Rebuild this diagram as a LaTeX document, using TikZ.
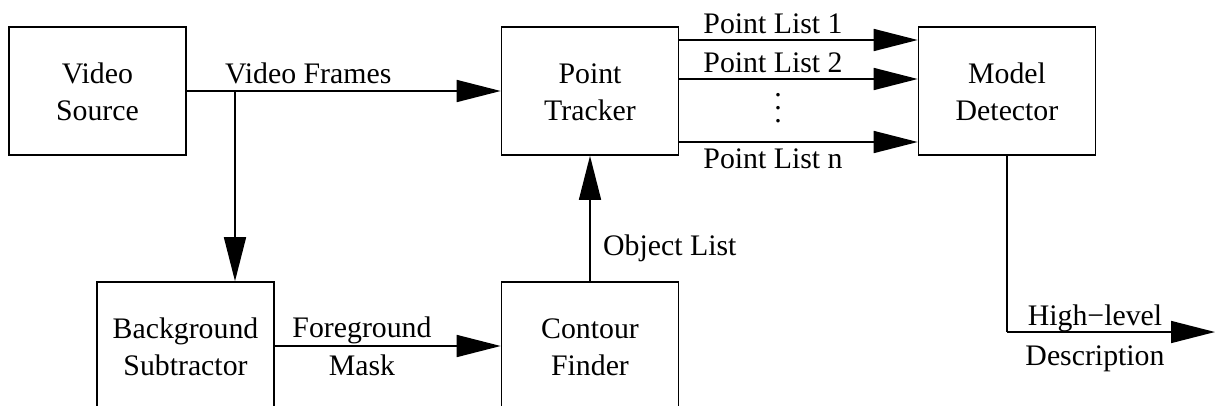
\documentclass[tikz,border=0pt]{standalone}
\usepackage{fontspec}
\setmainfont{Liberation Serif}
\usetikzlibrary{arrows.meta}
\newcommand{\bxtxt}[2]{\raisebox{-4pt}[\height][\depth]{\begin{tabular}{@{}c@{}}#1\\#2\end{tabular}}}
\begin{document}
\begin{tikzpicture}[x=1pt,y=-1pt,
  every node/.style={font=\fontsize{29.8}{37}\selectfont},
  blk/.style={draw, line width=1.6pt, minimum width=177pt, minimum height=128pt, inner sep=0pt},
  lbl/.style={anchor=base, inner sep=0pt},
  arr/.style={line width=1.6pt, -{Triangle[length=44pt,width=22pt]}},
  ln/.style={line width=1.6pt}]
\useasboundingbox (0,0) rectangle (1215,405);
\clip (0,0) rectangle (1215,405);
\node[blk] (vs) at (97.5,91) {\bxtxt{Video}{Source}};
\node[blk] (pt) at (590,91) {\bxtxt{Point}{Tracker}};
\node[blk] (md) at (1007,91) {\bxtxt{Model}{Detector}};
\node[blk] (bs) at (185.5,346) {\bxtxt{Background}{Subtractor}};
\node[blk] (cf) at (590,346) {\bxtxt{Contour}{Finder}};
% Video frames
\draw[arr] (vs.east) -- (pt.west);
\coordinate (br) at (235,91);
\draw[arr] (br) -- (br |- bs.north);
\node[lbl, anchor=base west] (vf) at (225,83) {Video Frames};
% point lists
\draw[arr] (pt.east |- 0,40) -- (md.west |- 0,40);
\draw[arr] (pt.east |- 0,79) -- (md.west |- 0,79);
\draw[arr] (pt.east |- 0,142) -- (md.west |- 0,142);
\node[lbl] (pl1) at (773,33) {Point List 1};
\node[lbl] (pl2) at (773,72) {Point List 2};
\node[lbl] (pln) at (773,168) {Point List n};
\node[inner sep=0pt, font=\fontsize{29.8}{13}\selectfont] (dots) at (778,108) {\vbox{\baselineskip=13pt\hbox{.}\hbox{.}\hbox{.}}};
% foreground mask
\draw[arr] (bs.east) -- (cf.west);
\node[lbl] (fg) at (362,337) {Foreground};
\node[lbl] (mk) at (362,375) {Mask};
% object list
\draw[arr] (cf.north) -- (pt.south);
\node[lbl, anchor=base west] (ol) at (603,255) {Object List};
% high-level
\coordinate (corner) at (md.south |- 0,332);
\coordinate (out) at (1215,332);
\draw[ln] (md.south) -- (corner);
\draw[arr] (corner) -- (out);
\node[lbl] (hl) at (1095,325) {High−level};
\node[lbl] (ds) at (1095,365) {Description};
\end{tikzpicture}
\end{document}
